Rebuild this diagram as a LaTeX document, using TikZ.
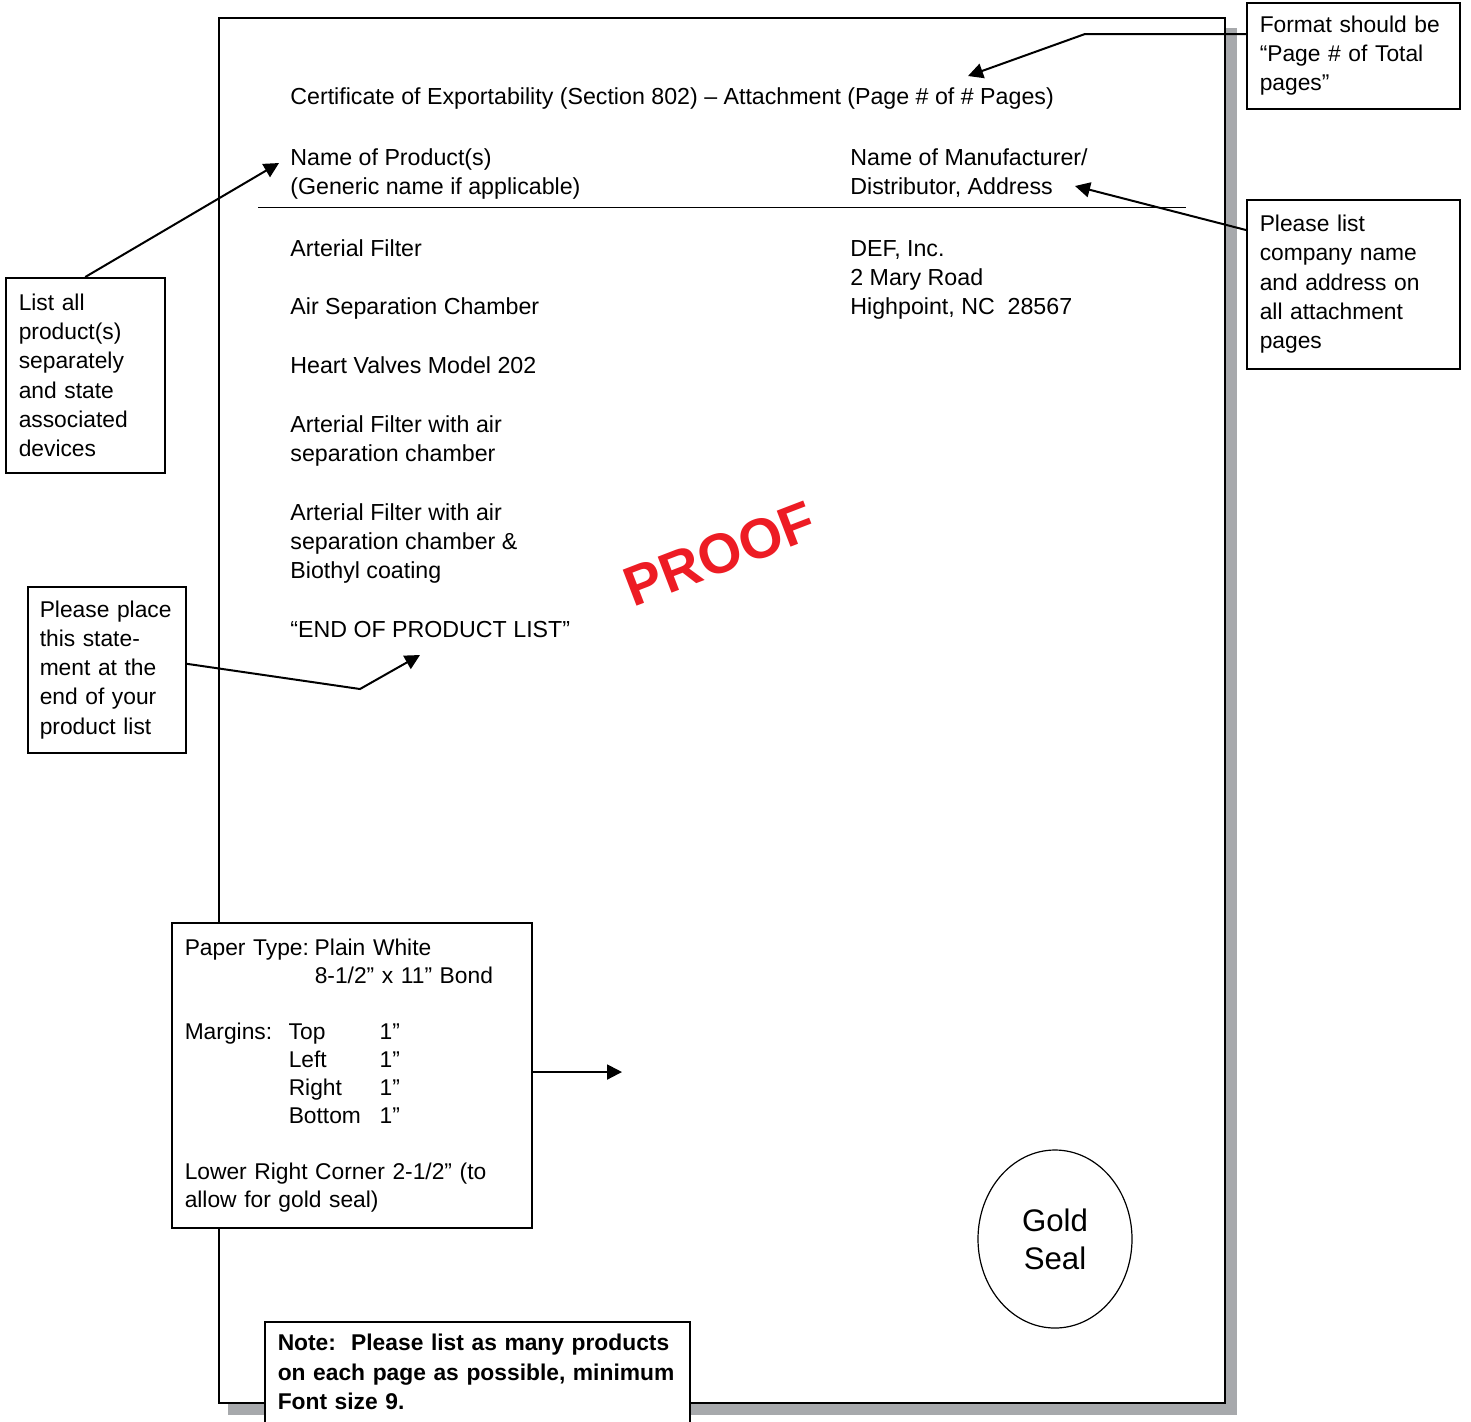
\documentclass[tikz,border=0pt]{standalone}
\usepackage{fontspec}
\setmainfont{Liberation Sans}
\usetikzlibrary{arrows.meta,shapes.geometric}
\definecolor{shadowgray}{RGB}{167,169,172}
\definecolor{proofred}{RGB}{237,28,36}
\tikzset{
  note/.style={draw, fill=white, line width=0.75pt, anchor=north west, align=left, inner xsep=6.5pt, inner ysep=0pt,
    font=\fontsize{11.4pt}{14.6pt}\selectfont},
  txt/.style={anchor=base west, inner sep=0pt, align=left},
  arr/.style={line width=1pt, -{Triangle[length=7.5pt,width=7.5pt]}},
}
\begin{document}
\begin{tikzpicture}[x=0.5pt, y=-0.5pt, font=\fontsize{11.6pt}{14.5pt}\selectfont]
\useasboundingbox (0,0) rectangle (1471,1421);
% the page and its shadow
\fill[shadowgray] (228,28) rectangle (1237,1415);
\draw[line width=1.15pt, fill=white] (219,18) rectangle (1225,1403);

\node[txt] (title) at (290,104) {Certificate of Exportability (Section 802) – Attachment (Page \# of \# Pages)};
\node[txt] (prodhead) at (290,194) {Name of Product(s)\\(Generic name if applicable)};
\node[txt] (mfrhead) at (850,194) {Name of Manufacturer/\\Distributor, Address};
\draw[line width=0.5pt] (258,207) -- (1186,207);

\node[txt] (p1) at (290,256) {Arterial Filter};
\node[txt] (p2) at (290,314) {Air Separation Chamber};
\node[txt] (p3) at (290,373) {Heart Valves Model 202};
\node[txt] (p4) at (290,461) {Arterial Filter with air\\separation chamber};
\node[txt] (p5) at (290,578) {Arterial Filter with air\\separation chamber \&\\Biothyl coating};
\node[txt] (endlist) at (290,637) {“END OF PRODUCT LIST”};
\node[txt] (mfr) at (850,314) {DEF, Inc.\\2 Mary Road\\Highpoint, NC\ \ 28567};

\node[text=proofred, font=\fontsize{28pt}{28pt}\selectfont\bfseries, rotate=21] (proof) at (720,554) {PROOF};
\node[draw, ellipse, line width=0.6pt, minimum width=77pt, minimum height=89pt, inner sep=0pt, align=center,
  font=\fontsize{15.6pt}{19pt}\selectfont] (seal) at (1055,1239) {Gold\\Seal};

% notes round the page
\node[note, text width=93.5pt, minimum height=53pt] (fmt) at (1246,2) {Format should be\\“Page \# of Total\\pages”};
\node[note, text width=93.5pt, minimum height=84.5pt] (plist) at (1246,199) {Please list\\company name\\and address on\\all attachment\\pages};
\node[note, text width=66.5pt, minimum height=97.5pt] (lall) at (5,277) {List all\\product(s)\\separately\\and state\\associated\\devices};
\node[note, inner xsep=6pt, text width=67pt, minimum height=83pt] (pplace) at (27,586) {Please place\\this state-\\ment at the\\end of your\\product list};
\node[note, font=\fontsize{11.4pt}{14pt}\selectfont, text width=167pt, minimum height=152.5pt] (paper) at (171,922)
  {\makebox[65pt][l]{Paper Type:}Plain White\\\hspace*{65pt}8-1/2” x 11” Bond\\[14pt]
   \makebox[52pt][l]{Margins:}\makebox[45.5pt][l]{Top}1”\\\hspace*{52pt}\makebox[45.5pt][l]{Left}1”\\
   \hspace*{52pt}\makebox[45.5pt][l]{Right}1”\\\hspace*{52pt}\makebox[45.5pt][l]{Bottom}1”\\[14pt]
   Lower Right Corner 2-1/2” (to\\allow for gold seal)};
\node[note, font=\fontsize{11.4pt}{14.75pt}\selectfont\bfseries, text width=199.5pt, minimum height=50.5pt] (note) at (264,1321)
  {Note:\ \ Please list as many products\\on each page as possible, minimum\\Font size 9.};

\coordinate (titletip) at (968,76);
\coordinate (mfrtip) at (1075,186);
\coordinate (prodtip) at (279,163);
\coordinate (endtip) at (420,655);
\coordinate (margintip) at (622,1072);

\draw[arr] (fmt.north west) ++(0,32) -- (1085,34) -- (titletip);
\draw[arr] (plist.north west) ++(0,31) -- (mfrtip);
\draw[arr] (lall.north) -- (prodtip);
\draw[arr] (pplace.east) ++(0,-6) -- (360,689) -- (endtip);
\draw[arr] (paper.east |- margintip) -- (margintip);
\end{tikzpicture}
\end{document}
